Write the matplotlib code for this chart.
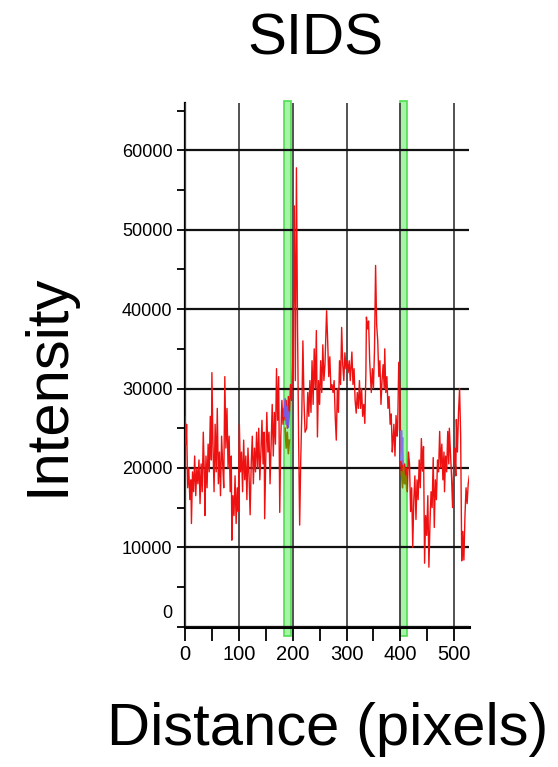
#!/usr/bin/env python3
"""Line-scan intensity profile for the SIDS sample."""

import matplotlib

matplotlib.use("Agg")
import matplotlib.pyplot as plt
from matplotlib.ticker import MultipleLocator, NullFormatter


TITLE = "SIDS"
X_LABEL = "Distance (pixels)"
Y_LABEL = "Intensity"

# profile (distance in pixels, intensity)
DISTANCE = [
    0, 2, 3, 5, 7, 9, 11, 12, 14, 16, 18, 20, 22, 24, 26, 28, 30, 32, 34, 36,
    37, 39, 41, 43, 45, 47, 49, 50, 52, 54, 56, 58, 60, 62, 64, 66, 68, 70, 72, 74,
    76, 78, 80, 82, 84, 86, 87, 89, 91, 93, 95, 97, 99, 101, 103, 105, 107, 109, 111, 113,
    115, 117, 119, 121, 123, 125, 127, 129, 131, 133, 135, 137, 139, 141, 143, 145, 147, 148, 150, 152,
    154, 156, 158, 160, 162, 164, 166, 168, 170, 172, 174, 176, 178, 180, 182, 184, 186, 188, 190, 192,
    194, 196, 198, 200, 202, 203, 205, 207, 209, 211, 213, 215, 217, 219, 221, 223, 226, 228, 230, 232,
    234, 236, 238, 240, 242, 244, 246, 248, 250, 252, 254, 256, 258, 260, 263, 265, 267, 269, 271, 273,
    275, 277, 279, 281, 283, 285, 287, 289, 291, 293, 295, 297, 299, 301, 303, 305, 307, 310, 312, 314,
    316, 318, 320, 322, 324, 326, 328, 330, 332, 334, 336, 337, 339, 341, 343, 345, 346, 348, 350, 352,
    354, 356, 358, 360, 362, 364, 366, 368, 370, 371, 373, 375, 377, 379, 381, 383, 385, 386, 388, 390,
    392, 394, 395, 397, 399, 400, 402, 404, 406, 408, 410, 411, 413, 415, 417, 419, 421, 423, 425, 427,
    429, 431, 433, 435, 437, 439, 441, 443, 445, 447, 449, 451, 453, 455, 457, 459, 461, 463, 465, 467,
    469, 471, 473, 475, 477, 479, 481, 482, 484, 486, 488, 490, 491, 493, 495, 497, 499, 501, 503, 504,
    506, 508, 510, 512, 514, 516, 518, 520, 522, 524, 526, 528,
]
INTENSITY = [
    26500, 23000, 25500, 17500, 20000, 16000, 18500, 13000, 19500, 17000,
    21500, 16500, 20000, 18000, 21000, 15500, 20500, 17000, 24500, 19000,
    14000, 21500, 17500, 23000, 19500, 26500, 21000, 32000, 23000, 17000,
    25500, 19500, 27500, 18000, 22000, 16500, 24000, 20500, 17500, 31500,
    22500, 27500, 20000, 24000, 17000, 21500, 10900, 16500, 14000, 19000,
    13000, 17500, 14500, 25500, 19500, 22000, 17000, 23500, 18500, 21500,
    16000, 22500, 19000, 14100, 20500, 24000, 18000, 22500, 19500, 24500,
    20000, 25000, 18500, 22000, 26000, 20500, 24500, 13600, 21000, 27000,
    22000, 24500, 18000, 23000, 28000, 21500, 27000, 23000, 32500, 26000,
    31500, 14400, 24000, 28500, 25500, 27500, 26000, 28500, 25000, 29000,
    27000, 30500, 28500, 33000, 44000, 53000, 31000, 57800, 38000, 24000,
    12800, 21000, 27000, 36000, 28500, 24500, 25000, 29500, 26500, 31000,
    27000, 33500, 28000, 35000, 30000, 37300, 23900, 31000, 28000, 33500,
    29500, 35500, 31000, 33000, 39800, 36000, 31500, 34000, 30000, 30500,
    29500, 31000, 26500, 23500, 30000, 27000, 33500, 30500, 37700, 33000,
    31000, 34500, 32500, 33500, 32000, 33500, 31000, 34600, 30500, 32500,
    28500, 26900, 29500, 27500, 31000, 27500, 30000, 26500, 28000, 25600,
    32000, 39000, 37500, 38500, 33500, 31000, 29500, 32500, 30000, 35000,
    45500, 38000, 36000, 31500, 33500, 28000, 31000, 33000, 30000, 35000,
    29500, 31500, 27500, 29000, 25500, 26800, 22000, 23000, 25500, 21500,
    26600, 24000, 25000, 33300, 29800, 22000, 19000, 21000, 18500, 20500,
    19000, 20000, 17000, 22000, 20500, 14500, 17500, 10000, 16000, 19000,
    13500, 18500, 16000, 21000, 17500, 23700, 19600, 22700, 8000, 14000,
    11500, 16500, 7500, 13000, 17000, 15000, 21300, 12500, 18500, 16000,
    21000, 19500, 24600, 20000, 23000, 18500, 22000, 17000, 21500, 19500,
    24600, 20500, 25000, 22000, 19000, 15000, 20400, 22500, 19000, 26100,
    22000, 27000, 30000, 24000, 8300, 12000, 8400, 14000, 17500, 15500,
    18000, 19000,
]

# short coloured traces at the two marker bands
PURPLE_X = [184, 186, 188, 190, 192, 194]
PURPLE_Y = [26500, 28700, 25500, 27800, 25100, 27000]
OLIVE_X = [186, 188, 190, 192, 194]
OLIVE_Y = [25000, 22500, 24500, 21800, 23500]
BLUE2_X = [401, 402, 403, 404, 405]
BLUE2_Y = [21000, 24700, 22000, 23800, 20500]
OLIVE2_X = [402, 404, 406, 408, 410, 412]
OLIVE2_Y = [19500, 17500, 20100, 18000, 19000, 17200]

# marker band limits (distance)
BANDS = [(184, 196), (399, 412)]

X_MAX = 528
Y_MAX = 66000


def main() -> int:
    big = ["Liberation Sans", "DejaVu Sans"]
    small = ["Liberation Sans Narrow", "Liberation Sans", "DejaVu Sans"]

    fig = plt.figure(figsize=(5.58, 7.67), dpi=100)
    ax = fig.add_axes([0.3315, 0.1829, 0.5095, 0.6832])

    for lo, hi in BANDS:
        ax.axvspan(lo, hi, ymin=-0.018, ymax=1.004, facecolor="#a6f5a6",
                   edgecolor="#52dc52", linewidth=1.2, clip_on=False, zorder=1)

    ax.plot(DISTANCE, INTENSITY, color="#ee1111", linewidth=1.0, zorder=4)
    ax.plot(PURPLE_X, PURPLE_Y, color="#7a5ce0", linewidth=1.2, zorder=5)
    ax.plot(OLIVE_X, OLIVE_Y, color="#808000", linewidth=1.2, zorder=5)
    ax.plot(BLUE2_X, BLUE2_Y, color="#7a7ae8", linewidth=1.2, zorder=5)
    ax.plot(OLIVE2_X, OLIVE2_Y, color="#808000", linewidth=1.2, zorder=5)

    ax.xaxis.set_major_locator(MultipleLocator(100))
    ax.xaxis.set_minor_locator(MultipleLocator(50))
    ax.yaxis.set_minor_locator(MultipleLocator(5000))
    ax.yaxis.set_minor_formatter(NullFormatter())
    ax.set_yticks(range(0, 70000, 10000))
    ax.set_yticklabels([""] + [str(v) for v in range(10000, 70000, 10000)])
    ax.set_xlim(0, X_MAX)
    ax.set_ylim(0, Y_MAX)

    ax.grid(True, axis="y", which="major", color="#111111", linewidth=1.6, zorder=2)
    ax.grid(True, axis="x", which="major", color="#444444", linewidth=1.3, zorder=2)
    ax.set_axisbelow(False)

    for side in ("top", "right"):
        ax.spines[side].set_visible(False)
    ax.spines["left"].set_linewidth(1.6)
    ax.spines["bottom"].set_linewidth(2.2)

    ax.tick_params(axis="x", which="both", direction="out", length=10,
                   width=1.3, pad=3, labelsize=14.5)
    ax.tick_params(axis="y", which="both", direction="out", length=6,
                   width=1.3, pad=3, labelsize=13)
    for lab in ax.get_xticklabels() + ax.get_yticklabels():
        lab.set_family(small)

    # the zero label sits a little above the axis line
    ax.annotate("0", xy=(0, 0), xycoords=("axes fraction", "data"),
                xytext=(-13, 13), textcoords="offset pixels",
                ha="right", va="center", fontsize=13, family=small)

    fig.text(0.5645, 0.9283, TITLE, ha="center", va="baseline",
             fontsize=42, family=big)
    fig.text(0.588, 0.0287, X_LABEL, ha="center", va="baseline",
             fontsize=43, family=big)
    fig.text(0.113, 0.4987, Y_LABEL, ha="center", va="baseline",
             rotation=90, rotation_mode="anchor", fontsize=43, family=big)

    fig.savefig("out.png", dpi=100)
    return 0


if __name__ == "__main__":
    raise SystemExit(main())
